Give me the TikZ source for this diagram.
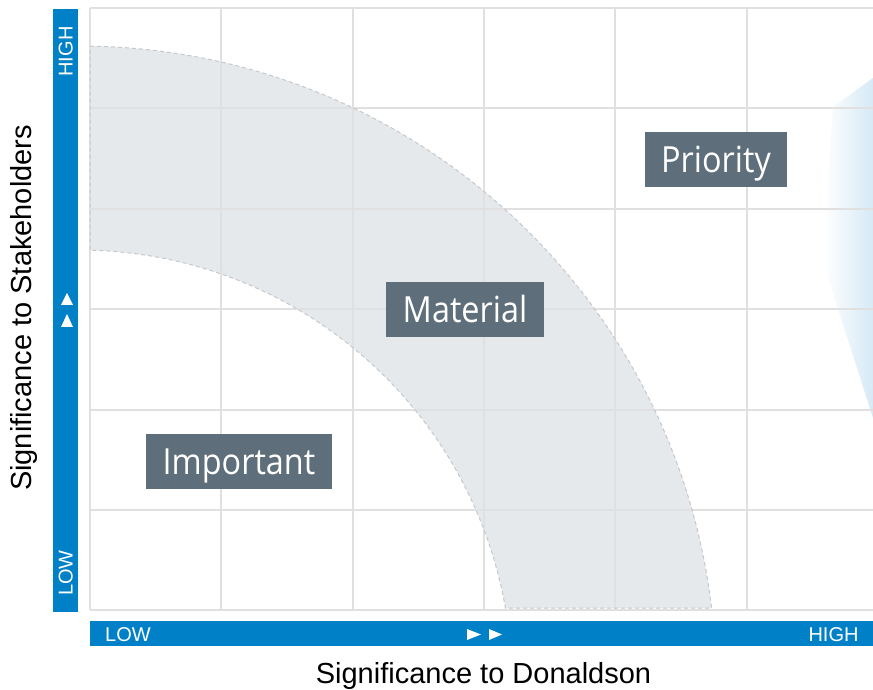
\documentclass[tikz,border=0pt]{standalone}
\usepackage{fontspec}
\usepackage{graphicx}
\setmainfont{Liberation Sans}
\newfontfamily\boxfont{Open Sans}
\usetikzlibrary{calc}
\definecolor{barblue}{HTML}{0080C6}
\definecolor{boxgray}{HTML}{5E6E7A}
\definecolor{gridgray}{HTML}{E0E0E0}
\definecolor{bandfill}{HTML}{E6E9EC}
\definecolor{banddash}{HTML}{C5C8CC}
\definecolor{lightblue}{HTML}{D6E9F5}
\tikzset{
  gridline/.style={draw=gridgray, line width=1.6pt},
  bandedge/.style={draw=banddash, line width=1pt, dash pattern=on 4pt off 3pt},
  barlabel/.style={text=white, font=\fontsize{20}{24}\selectfont, inner sep=0pt, text height=14.3pt, text depth=0pt},
  tag/.style={fill=boxgray, text=white, inner sep=0pt, text height=25.7pt, text depth=0pt, minimum height=55pt, font=\boxfont\fontsize{36}{40}\selectfont},
  axistitle/.style={font=\fontsize{29}{34}\selectfont, inner sep=0pt, text=black},
  tri/.style={fill=white, draw=none}
}
\begin{document}
\begin{tikzpicture}[x=1pt,y=1pt]
\useasboundingbox (0,0) rectangle (873,689);
\fill[white] (0,0) rectangle (873,689);
% faded blue shape at right
\shade[left color=white, right color=lightblue] (873,611) -- (833,582) -- (823,427) -- (873,271) -- cycle;
% material band
\coordinate (C) at (79,6);
\fill[bandfill] ($(C)+(89.01:637)$) arc[start angle=89.01,end angle=6.76,radius=637]
  -- ($(C)+(9.97:433)$) arc[start angle=9.97,end angle=88.54,radius=433] -- cycle;
% grid
\foreach \x in {90,221,353,484,615,747} \draw[gridline] (\x,79) -- (\x,681);
\foreach \y in {79,179,279,380,480,581,681} \draw[gridline] (90,\y) -- (873,\y);
% band outline
\draw[bandedge] ($(C)+(89.01:637)$) arc[start angle=89.01,end angle=6.76,radius=637]
  -- ($(C)+(9.97:433)$) arc[start angle=9.97,end angle=88.54,radius=433] -- cycle;
% axis bars
\fill[barblue] (53,77) rectangle (78,680);
\fill[barblue] (90,43) rectangle (873,68);
\node[barlabel, rotate=90] (vhigh) at (65.5,637.5) {HIGH};
\node[barlabel, rotate=90] (vlow) at (65.5,116) {LOW};
\node[barlabel] (hlow) at (128,54.5) {LOW};
\node[barlabel] (hhigh) at (833.5,54.5) {HIGH};
\fill[tri] (467,49) -- (467,60) -- (481,54.5) -- cycle;
\fill[tri] (489,49) -- (489,60) -- (502,54.5) -- cycle;
\fill[tri] (61,384) -- (73,384) -- (67,396) -- cycle;
\fill[tri] (61,362) -- (73,362) -- (67,375) -- cycle;
% axis titles
\node[axistitle, anchor=base] (xtitle) at (483.5,5.5) {Significance to Donaldson};
\node[axistitle, anchor=base, rotate=90] (ytitle) at (31,381) {Significance to Stakeholders};
% category tags
\node[tag, minimum width=142pt] (priority) at (716,529.5) {\scalebox{0.9}[1]{Priority}};
\node[tag, minimum width=158pt] (material) at (465,379.5) {\scalebox{0.9}[1]{Material}};
\node[tag, minimum width=186pt] (important) at (239,227.5) {\scalebox{0.9}[1]{Important}};
\end{tikzpicture}
\end{document}
